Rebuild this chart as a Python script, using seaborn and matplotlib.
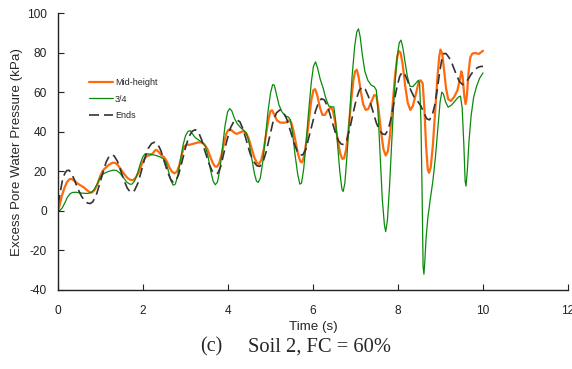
import numpy as np
import pandas as pd
import matplotlib
matplotlib.use("Agg")
import matplotlib.pyplot as plt
import seaborn as sns

# ---- data ----
t_ends = [0.0, 0.05, 0.1, 0.16, 0.21, 0.26, 0.31, 0.38, 0.46, 0.55, 0.63, 0.7, 0.76, 0.82, 0.9, 0.98,
          1.06, 1.13, 1.2, 1.26, 1.32, 1.4, 1.48, 1.56, 1.63, 1.69, 1.74, 1.8, 1.88, 1.96, 2.04, 2.12,
          2.2, 2.27, 2.34, 2.42, 2.5, 2.58, 2.65, 2.71, 2.77, 2.84, 2.92, 3.0, 3.08, 3.16, 3.23, 3.3,
          3.38, 3.46, 3.55, 3.63, 3.7, 3.76, 3.83, 3.9, 3.98, 4.06, 4.14, 4.21, 4.28, 4.36, 4.44, 4.52,
          4.6, 4.68, 4.75, 4.82, 4.9, 4.98, 5.06, 5.14, 5.22, 5.3, 5.38, 5.46, 5.55, 5.63, 5.7, 5.76,
          5.83, 5.9, 5.98, 6.06, 6.13, 6.2, 6.27, 6.35, 6.43, 6.52, 6.6, 6.66, 6.72, 6.79, 6.86, 6.94,
          7.02, 7.09, 7.16, 7.23, 7.31, 7.4, 7.49, 7.57, 7.64, 7.7, 7.77, 7.84, 7.91, 7.98, 8.04, 8.1,
          8.16, 8.23, 8.3, 8.38, 8.46, 8.54, 8.62, 8.68, 8.74, 8.8, 8.86, 8.92, 8.98, 9.03, 9.08, 9.13,
          9.2, 9.28, 9.36, 9.44, 9.52, 9.58, 9.65, 9.72, 9.8, 9.88, 9.95, 10.0]
v_ends = [3, 9, 15, 19, 20.4, 20.5, 19.2, 16, 11.5, 7.5, 5, 3.9, 3.7, 4.6, 8, 13.5,
          19.5, 24.5, 27.5, 28.4, 27.8, 25, 20, 15, 11.5, 9.8, 9.3, 10.3, 14, 20, 26.5, 31.5,
          34, 34.7, 34, 30.5, 25, 19.5, 16, 14.5, 15, 18.5, 25, 32, 37.5, 40.3, 41, 40,
          36, 30, 24, 20, 18.6, 19, 22.5, 29, 36, 42, 45.3, 46, 45, 41, 35, 29,
          25, 22.8, 22.5, 24.5, 30, 37.5, 45, 49.5, 51, 50, 46.5, 41, 34.5, 30, 28.2, 28.3,
          31, 37, 44, 50.5, 54.8, 56.7, 56, 52.5, 46.5, 40, 35.5, 33.8, 33.5, 35.5, 41, 49,
          56.5, 61, 62.6, 61.5, 57.5, 51, 44.5, 40.5, 38.8, 38.6, 41, 47, 55.5, 63, 68, 70.2,
          69, 65.5, 61, 57.5, 55.5, 53, 49, 46.5, 46, 48, 53, 61, 70, 76.5, 79.5, 79.5,
          77.5, 74, 69.5, 65.5, 63.8, 64.5, 66.5, 69, 71.3, 72.5, 73, 73]

t_mid = [0.0, 0.04, 0.09, 0.15, 0.21, 0.27, 0.32, 0.38, 0.45, 0.52, 0.6, 0.68, 0.74, 0.8, 0.86, 0.93,
         1.0, 1.06, 1.13, 1.2, 1.28, 1.34, 1.4, 1.48, 1.56, 1.64, 1.71, 1.77, 1.83, 1.9, 1.97, 2.04,
         2.1, 2.17, 2.23, 2.28, 2.32, 2.37, 2.43, 2.5, 2.56, 2.62, 2.68, 2.74, 2.8, 2.86, 2.92, 2.97,
         3.02, 3.1, 3.2, 3.3, 3.38, 3.45, 3.52, 3.58, 3.64, 3.69, 3.74, 3.79, 3.85, 3.91, 3.96, 4.01,
         4.07, 4.13, 4.2, 4.28, 4.36, 4.42, 4.48, 4.55, 4.62, 4.68, 4.73, 4.78, 4.84, 4.9, 4.95, 5.0,
         5.04, 5.09, 5.15, 5.22, 5.3, 5.38, 5.44, 5.49, 5.54, 5.6, 5.65, 5.7, 5.74, 5.79, 5.85, 5.91,
         5.96, 6.01, 6.05, 6.1, 6.16, 6.22, 6.28, 6.35, 6.42, 6.47, 6.52, 6.58, 6.64, 6.69, 6.73, 6.78,
         6.84, 6.9, 6.95, 6.99, 7.03, 7.07, 7.12, 7.18, 7.24, 7.3, 7.37, 7.44, 7.49, 7.54, 7.6, 7.66,
         7.71, 7.76, 7.81, 7.87, 7.93, 7.98, 8.02, 8.06, 8.11, 8.17, 8.23, 8.29, 8.35, 8.42, 8.48, 8.53,
         8.58, 8.62, 8.66, 8.7, 8.73, 8.77, 8.82, 8.88, 8.93, 8.97, 9.0, 9.04, 9.08, 9.13, 9.18, 9.24,
         9.32, 9.4, 9.46, 9.49, 9.52, 9.56, 9.59, 9.62, 9.66, 9.7, 9.75, 9.82, 9.9, 9.96, 10.0]
v_mid = [0, 3, 7.5, 11.5, 14.5, 16, 16.1, 15.3, 14, 13, 12, 10.5, 9.5, 9.3, 10.5, 13.5,
         18, 20.5, 22, 23.3, 24.3, 24.3, 23.3, 21, 18.5, 16.5, 15.6, 15.6, 16.8, 19.5, 23.5, 26.5,
         27.8, 28.2, 29, 30.5, 30.8, 29.8, 28.2, 27, 25, 22, 19.8, 19, 19.8, 23.5, 29, 32.5,
         33.5, 33.4, 34, 34.6, 34.6, 33.5, 31, 27.5, 24.3, 22.5, 22.3, 24, 28.5, 34.5, 39, 41,
         41, 39.8, 38.9, 39.6, 40.3, 39.5, 37, 32, 27, 24.2, 23.7, 25.5, 31, 39, 46, 50.5,
         50.8, 48.5, 45.8, 44.7, 44.5, 44.8, 45.8, 44.5, 40.5, 34, 28.5, 25, 24.5, 27.5, 36, 47,
         56, 61, 61.5, 58.5, 52.5, 48.5, 48.5, 51, 52.4, 50.5, 45, 36, 29, 26.3, 26.5, 31,
         42, 56, 66, 70.5, 71.3, 68, 61, 54, 51, 51.5, 55, 58.5, 58.3, 52, 40, 31,
         28, 30, 38, 53, 68, 77.5, 80.8, 80, 74, 63, 54.5, 51, 53, 59, 64.5, 66,
         64.5, 52, 33, 21, 19.2, 22, 33, 52, 68, 78, 81.5, 79.5, 72, 62, 56.5, 55.5,
         57.5, 61, 67, 70.5, 68, 58, 54, 58, 70, 77.5, 79.5, 79.8, 79.3, 80.3, 80.9]

t_34 = [0.0, 0.05, 0.1, 0.16, 0.22, 0.28, 0.34, 0.42, 0.5, 0.6, 0.7, 0.78, 0.85, 0.92, 0.98, 1.04,
        1.12, 1.2, 1.3, 1.38, 1.46, 1.54, 1.62, 1.69, 1.74, 1.8, 1.87, 1.94, 2.0, 2.05, 2.12, 2.2,
        2.3, 2.4, 2.48, 2.54, 2.6, 2.66, 2.71, 2.76, 2.82, 2.88, 2.94, 3.0, 3.06, 3.11, 3.16, 3.23,
        3.31, 3.4, 3.47, 3.53, 3.59, 3.65, 3.7, 3.75, 3.81, 3.87, 3.93, 3.99, 4.04, 4.09, 4.15, 4.22,
        4.3, 4.38, 4.44, 4.5, 4.56, 4.62, 4.67, 4.71, 4.76, 4.82, 4.88, 4.94, 5.0, 5.05, 5.09, 5.14,
        5.2, 5.27, 5.35, 5.42, 5.47, 5.52, 5.58, 5.64, 5.69, 5.73, 5.78, 5.84, 5.9, 5.96, 6.01, 6.06,
        6.11, 6.17, 6.24, 6.3, 6.37, 6.44, 6.49, 6.53, 6.58, 6.63, 6.68, 6.71, 6.75, 6.8, 6.86, 6.92,
        6.98, 7.03, 7.07, 7.11, 7.16, 7.22, 7.29, 7.37, 7.44, 7.49, 7.53, 7.58, 7.63, 7.68, 7.71, 7.75,
        7.8, 7.86, 7.92, 7.98, 8.03, 8.07, 8.11, 8.16, 8.22, 8.28, 8.35, 8.42, 8.48, 8.51, 8.54, 8.57,
        8.59, 8.61, 8.63, 8.66, 8.7, 8.76, 8.82, 8.88, 8.94, 8.99, 9.03, 9.07, 9.12, 9.18, 9.26, 9.34,
        9.42, 9.47, 9.51, 9.55, 9.58, 9.6, 9.63, 9.67, 9.72, 9.78, 9.85, 9.92, 10.0]
v_34 = [0, 0.3, 1.5, 4, 6.8, 8.6, 9.3, 9.4, 9.1, 8.9, 8.8, 9.2, 10.8, 13.5, 16.5, 18.3,
        19.3, 20, 20.6, 20.4, 19, 16.8, 14.5, 13.5, 13.5, 15, 19, 24, 27.5, 28.8, 28.8, 28.5,
        28, 27.3, 26.3, 24.5, 20, 15, 13, 13.5, 18, 25.5, 33, 38, 40.2, 40.5, 39, 37,
        35.8, 34.5, 32.5, 27.5, 20.5, 15, 13.2, 14.5, 21, 32, 43, 50, 51.7, 50.5, 46.8, 44,
        42, 40.5, 39, 34, 26.5, 19, 15, 14.4, 16.5, 25, 37, 50, 59.5, 63.8, 63.5, 59,
        53.5, 50, 48, 47.4, 46, 39, 28, 18.5, 13.5, 14, 21, 35, 51, 65, 73, 75.3,
        72, 66.5, 62, 57, 53, 52.5, 52.5, 46, 33, 20, 11, 9.8, 14, 28, 48, 68,
        83, 90.5, 92, 88, 79, 70.5, 66, 63.5, 62.8, 61, 50, 28, 6, -7, -10.5, -5,
        12, 38, 62, 78, 85, 86.3, 83, 76, 68, 63, 62.8, 64.5, 66, 64, 45, 5,
        -28, -32, -26, -14, -4, 6, 15, 27, 42, 55, 60, 59, 55, 52.4, 53.5, 55.5,
        57.5, 58, 52, 33, 15, 12.5, 20, 35, 48, 57.5, 63, 67, 69.7]

series_names = ["Mid-height", "3/4", "Ends"]
x_ticks = [0, 2, 4, 6, 8, 10, 12]
y_ticks = [-40, -20, 0, 20, 40, 60, 80, 100]

df = pd.concat([
    pd.DataFrame({"Time": t_mid, "EPWP": v_mid, "series": series_names[0]}),
    pd.DataFrame({"Time": t_34, "EPWP": v_34, "series": series_names[1]}),
    pd.DataFrame({"Time": t_ends, "EPWP": v_ends, "series": series_names[2]}),
], ignore_index=True)

sns.set_style("ticks")
plt.rcParams["font.family"] = ["Liberation Sans", "DejaVu Sans"]
plt.rcParams["axes.unicode_minus"] = False

fig = plt.figure(figsize=(5.72, 3.69), dpi=100)
ax = fig.add_axes([58 / 572, 1 - 290 / 369, 510 / 572, 277 / 369])

styles = {
    "Mid-height": dict(color="#FF6A0E", lw=1.6, ls="-"),
    "3/4": dict(color="#0A8A0A", lw=0.9, ls="-"),
    "Ends": dict(color="#333333", lw=1.2, ls=(0, (6, 3))),
}
for name in series_names:
    sub = df[df["series"] == name]
    st = styles[name]
    sns.lineplot(data=sub, x="Time", y="EPWP", ax=ax, color=st["color"],
                 linewidth=st["lw"], linestyle=st["ls"], label=name,
                 estimator=None, sort=False)

ax.set_xlim(0, 12)
ax.set_ylim(-40, 100)
ax.set_xticks(x_ticks)
ax.set_yticks(y_ticks)
ax.tick_params(direction="in", length=4, width=0.8, labelsize=8.6, colors="#222222")
ax.tick_params(axis="x", pad=11)
ax.tick_params(axis="y", pad=8)
for s in ["top", "right"]:
    ax.spines[s].set_visible(False)
for s in ["left", "bottom"]:
    ax.spines[s].set_linewidth(1.0)
    ax.spines[s].set_color("#222222")

ax.set_xlabel("Time (s)", fontsize=9.6, labelpad=2.5)
ax.set_ylabel("Excess Pore Water Pressure (kPa)", fontsize=9.6, labelpad=3)

leg = ax.legend(loc="upper left", bbox_to_anchor=(0.045, 0.795), frameon=False,
                fontsize=6.5, handlelength=2.6, handletextpad=0.25, labelspacing=0.85)

serif = ["Liberation Serif", "DejaVu Serif"]
fig.text(200 / 572, 1 - 347 / 369, "(c)", ha="left", va="center", fontsize=14.5, family=serif)
fig.text(248 / 572, 1 - 347 / 369, "Soil 2, FC = 60%", ha="left", va="center", fontsize=14.8,
         family=serif)

fig.savefig("out.png", dpi=100)
